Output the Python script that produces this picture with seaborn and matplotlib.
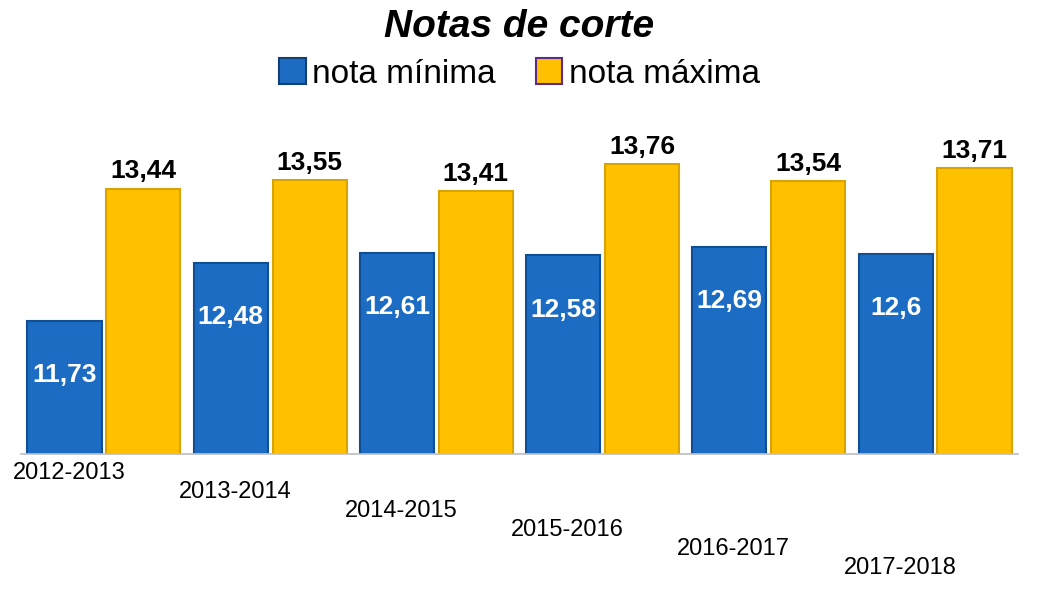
import numpy as np
import pandas as pd
import seaborn as sns
import matplotlib.pyplot as plt
from matplotlib.patches import Patch
from matplotlib.transforms import ScaledTranslation

anos = ['2012-2013', '2013-2014', '2014-2015', '2015-2016', '2016-2017', '2017-2018']
nota_minima = [11.73, 12.48, 12.61, 12.58, 12.69, 12.6]
nota_maxima = [13.44, 13.55, 13.41, 13.76, 13.54, 13.71]
series = ['nota mínima', 'nota máxima']

df = pd.DataFrame({
    'ano': anos * 2,
    'tipo': [series[0]] * len(anos) + [series[1]] * len(anos),
    'nota': nota_minima + nota_maxima,
})

def fmt(v):
    return f'{v:g}'.replace('.', ',')

sns.set_theme(style='white')
plt.rcParams['font.family'] = ['Liberation Sans', 'DejaVu Sans']
plt.rcParams['text.color'] = 'black'
plt.rcParams['xtick.color'] = 'black'

azul = '#1C6CC4'
amarelo = '#FFC000'

fig = plt.figure(figsize=(10.39, 5.93), dpi=100)
ax = fig.add_axes([0.02, 0.235, 0.96, 0.545])

sns.barplot(data=df, x='ano', y='nota', hue='tipo', hue_order=series,
            palette={series[0]: azul, series[1]: amarelo}, saturation=1,
            width=0.95, gap=0.06, ax=ax, legend=False, linewidth=1.5)

# darker outline for a bit of depth
for bar in ax.containers[0]:
    bar.set_edgecolor('#124E93')
for bar in ax.containers[1]:
    bar.set_edgecolor('#D9A300')

ax.set_ylim(10, 14.2)
ax.bar_label(ax.containers[0], labels=[fmt(v) for v in nota_minima],
             padding=-48, color='white', fontsize=19, fontweight='bold')
ax.bar_label(ax.containers[1], labels=[fmt(v) for v in nota_maxima],
             padding=4, color='black', fontsize=19, fontweight='bold')

ax.set_xlabel('')
ax.set_ylabel('')
ax.set_yticks([])
ax.tick_params(axis='x', length=0, labelsize=17, pad=6)
sns.despine(ax=ax, left=True)
ax.spines['bottom'].set_color('#BFBFBF')

# staggered category labels, like the perspective floor of the original
for i, lab in enumerate(ax.get_xticklabels()):
    lab.set_transform(lab.get_transform() +
                      ScaledTranslation(-0.35, -0.19 * i, fig.dpi_scale_trans))

handles = [Patch(facecolor=azul, edgecolor='#0F3F73', linewidth=1.5),
           Patch(facecolor=amarelo, edgecolor='#5B2C83', linewidth=1.5)]
fig.legend(handles, series, loc='center', bbox_to_anchor=(0.5, 0.875), ncol=2,
           frameon=False, fontsize=24, handlelength=0.8, handleheight=0.8,
           handletextpad=0.2, columnspacing=1.2)

fig.text(0.5, 0.955, 'Notas de corte', ha='center', va='center',
         fontsize=28, fontweight='bold', fontstyle='italic')

fig.savefig('out.png', dpi=100)
